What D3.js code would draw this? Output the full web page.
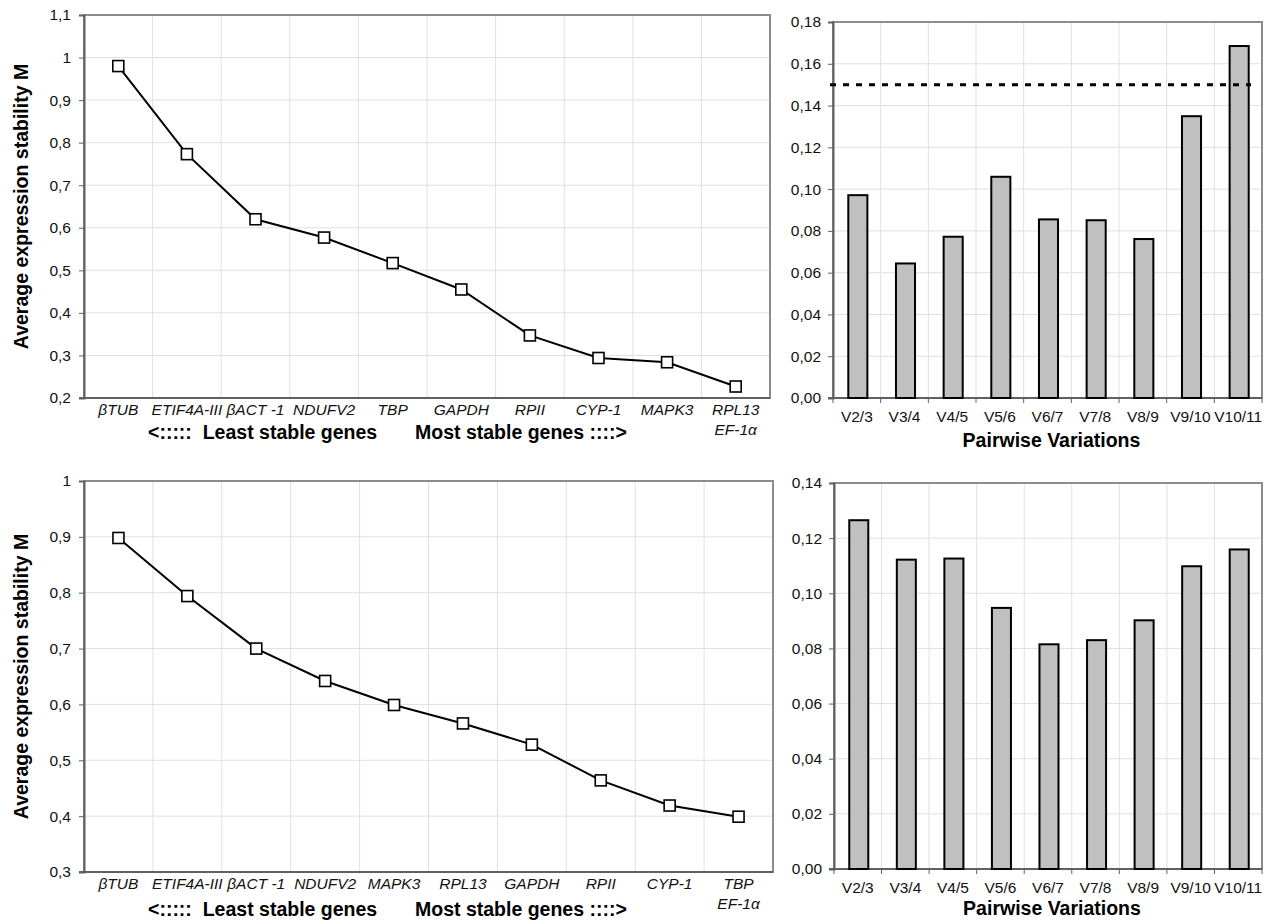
<!DOCTYPE html>
<html>
<head>
<meta charset="utf-8">
<script src="https://cdn.jsdelivr.net/npm/d3@7"></script>
<style>
  body { margin: 0; background: #fff; }
  svg { display: block; font-family: Arial, "Liberation Sans", sans-serif; }
</style>
</head>
<body>
<svg id="chart" width="1268" height="923"></svg>
<script>
// gene ranking (geNorm M values), top and bottom panels
var genesTop = ["βTUB", "ETIF4A-III", "βACT -1", "NDUFV2", "TBP", "GAPDH", "RPII", "CYP-1", "MAPK3", "RPL13\nEF-1α"];
var mTop = [0.98, 0.773, 0.62, 0.577, 0.517, 0.455, 0.347, 0.294, 0.284, 0.227];

var genesBottom = ["βTUB", "ETIF4A-III", "βACT -1", "NDUFV2", "MAPK3", "RPL13", "GAPDH", "RPII", "CYP-1", "TBP\nEF-1α"];
var mBottom = [0.898, 0.794, 0.70, 0.642, 0.599, 0.566, 0.528, 0.464, 0.419, 0.399];

// pairwise variations
var pairs = ["V2/3", "V3/4", "V4/5", "V5/6", "V6/7", "V7/8", "V8/9", "V9/10", "V10/11"];
var vTop = [0.0971, 0.0644, 0.0772, 0.1059, 0.0855, 0.0851, 0.0761, 0.1349, 0.1685];
var vBottom = [0.1265, 0.1122, 0.1126, 0.0947, 0.0815, 0.083, 0.0902, 0.1098, 0.1159];
var cutoff = 0.15;

var lineDomTop = [0.2, 1.1], lineDomBottom = [0.3, 1.0];
var barDomTop = [0, 0.18], barDomBottom = [0, 0.14];

var svg = d3.select("#chart");
var loc = d3.formatLocale({decimal: ",", thousands: ".", grouping: [3], currency: ["", ""]});
var fmtLine = loc.format(".1~f"), fmtBar = loc.format(".2f");
var tickFont = 15.5, titleFont = 19.5;

// draws the frame, grid and y axis of one panel, returns the scales
function panel(box, cats, dom, fmt, nTicks, tickPad) {
  var g = svg.append("g");
  var x = d3.scaleBand().domain(cats).range([box.left, box.right]);
  var y = d3.scaleLinear().domain(dom).range([box.bottom, box.top]);
  var ticks = y.ticks(nTicks);

  // grid
  g.selectAll(".hg").data(ticks).enter().append("line")
      .attr("x1", box.left).attr("x2", box.right)
      .attr("y1", function(d) { return y(d); }).attr("y2", function(d) { return y(d); })
      .attr("stroke", "#e0e0e0").attr("stroke-width", 1);
  g.selectAll(".vg").data(cats.slice(1)).enter().append("line")
      .attr("x1", function(d) { return x(d); }).attr("x2", function(d) { return x(d); })
      .attr("y1", box.top).attr("y2", box.bottom)
      .attr("stroke", "#e0e0e0").attr("stroke-width", 1);

  // frame
  g.append("rect")
      .attr("x", box.left).attr("y", box.top)
      .attr("width", box.right - box.left).attr("height", box.bottom - box.top)
      .attr("fill", "none").attr("stroke", "#8c8c8c").attr("stroke-width", 2);

  // y axis
  var ya = g.append("g")
      .attr("transform", "translate(" + box.left + ",0)")
      .call(d3.axisLeft(y).tickValues(ticks).tickFormat(fmt).tickSize(5).tickPadding(tickPad));
  ya.select(".domain").attr("stroke", "#606060").attr("stroke-width", 2);
  ya.selectAll(".tick line").attr("stroke", "#606060");
  ya.selectAll("text").attr("font-size", tickFont).attr("fill", "#111");

  // bottom axis line
  g.append("line")
      .attr("x1", box.left - 5).attr("x2", box.right)
      .attr("y1", box.bottom).attr("y2", box.bottom)
      .attr("stroke", "#606060").attr("stroke-width", 2);

  return {g: g, x: x, y: y};
}

function lineChart(box, cats, vals, dom, nTicks) {
  var p = panel(box, cats, dom, fmtLine, nTicks, 8);
  var x = p.x, y = p.y, g = p.g;
  var data = cats.map(function(c, i) { return {c: c, v: vals[i]}; });
  var cx = function(d) { return x(d.c) + x.bandwidth() / 2; };

  g.append("path")
      .datum(data)
      .attr("fill", "none")
      .attr("stroke", "#000")
      .attr("stroke-width", 2)
      .attr("d", d3.line().x(cx).y(function(d) { return y(d.v); }));

  g.selectAll(".pt").data(data).enter().append("rect")
      .attr("x", function(d) { return cx(d) - 5.5; })
      .attr("y", function(d) { return y(d.v) - 5.5; })
      .attr("width", 11).attr("height", 11)
      .attr("fill", "#fff").attr("stroke", "#000").attr("stroke-width", 1.6);

  // category labels, italic, may have two lines
  var lab = g.selectAll(".lab").data(cats).enter().append("text")
      .attr("text-anchor", "middle")
      .attr("font-size", tickFont).attr("font-style", "italic").attr("fill", "#111");
  lab.each(function(d) {
    var t = d3.select(this), parts = d.split("\n");
    parts.forEach(function(s, i) {
      t.append("tspan")
          .attr("x", x(d) + x.bandwidth() / 2)
          .attr("y", box.bottom + 17 + i * 20)
          .text(s);
    });
  });

  g.append("text")
      .attr("x", box.left + 64).attr("y", box.bottom + box.titleDy)
      .attr("font-size", titleFont).attr("font-weight", "bold")
      .attr("xml:space", "preserve")
      .text("<:::::  Least stable genes");
  g.append("text")
      .attr("x", box.left + 331).attr("y", box.bottom + box.titleDy)
      .attr("font-size", titleFont).attr("font-weight", "bold")
      .text("Most stable genes ::::>");

  g.append("text")
      .attr("transform", "translate(28," + ((box.top + box.bottom) / 2) + ") rotate(-90)")
      .attr("text-anchor", "middle")
      .attr("font-size", titleFont).attr("font-weight", "bold")
      .text("Average expression stability M");
}

function barChart(box, cats, vals, dom, nTicks, line) {
  var p = panel(box, cats, dom, fmtBar, nTicks, 7);
  var x = p.x, y = p.y, g = p.g;
  var bw = x.bandwidth() * 0.4;

  // x ticks at category boundaries
  g.selectAll(".xt").data(cats.concat([null])).enter().append("line")
      .attr("x1", function(d, i) { return box.left + i * x.step(); })
      .attr("x2", function(d, i) { return box.left + i * x.step(); })
      .attr("y1", box.bottom).attr("y2", box.bottom + 5)
      .attr("stroke", "#606060");

  g.selectAll(".bar").data(cats).enter().append("rect")
      .attr("x", function(d) { return x(d) + x.bandwidth() / 2 - bw / 2 + 1; })
      .attr("y", function(d, i) { return y(vals[i]); })
      .attr("width", bw)
      .attr("height", function(d, i) { return y(0) - y(vals[i]); })
      .attr("fill", "#c0c0c0").attr("stroke", "#000").attr("stroke-width", 2);

  if (line != null) {
    g.append("line")
        .attr("x1", box.left - 3).attr("x2", box.right - 11)
        .attr("y1", y(line)).attr("y2", y(line))
        .attr("stroke", "#000").attr("stroke-width", 3)
        .attr("stroke-dasharray", "6,7");
  }

  g.selectAll(".lab").data(cats).enter().append("text")
      .attr("x", function(d) { return x(d) + x.bandwidth() / 2; })
      .attr("y", box.bottom + 24)
      .attr("text-anchor", "middle")
      .attr("font-size", tickFont).attr("fill", "#111")
      .text(function(d) { return d; });

  g.append("text")
      .attr("x", (box.left + box.right) / 2 + 4).attr("y", box.bottom + box.titleDy)
      .attr("text-anchor", "middle")
      .attr("font-size", titleFont).attr("font-weight", "bold")
      .text("Pairwise Variations");
}

lineChart({left: 84, right: 770, top: 15, bottom: 398, titleDy: 41}, genesTop, mTop, lineDomTop, 9);
lineChart({left: 84, right: 773, top: 481, bottom: 872, titleDy: 44}, genesBottom, mBottom, lineDomBottom, 7);
barChart({left: 833, right: 1262, top: 22, bottom: 398, titleDy: 49}, pairs, vTop, barDomTop, 9, cutoff);
barChart({left: 834, right: 1262, top: 483, bottom: 869, titleDy: 46}, pairs, vBottom, barDomBottom, 7, null);
</script>
</body>
</html>
